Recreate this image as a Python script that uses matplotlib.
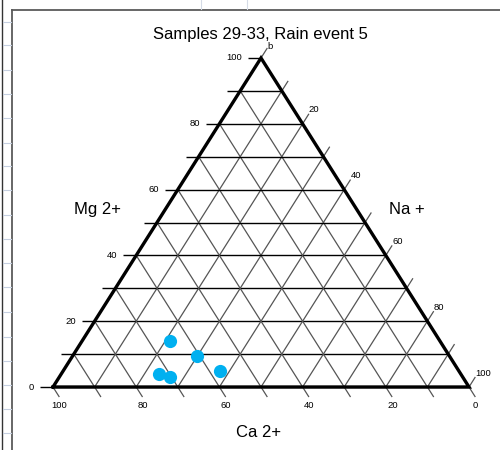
import matplotlib
matplotlib.use("Agg")
import matplotlib.pyplot as plt
from matplotlib.lines import Line2D
import numpy as np

plt.rcParams['font.family'] = ['Liberation Sans', 'DejaVu Sans']

# ---- data ----
title = "Samples 29-33, Rain event 5"
ca = [64.9, 60.7, 57.4, 72.5, 70.4]
mg = [14.0, 9.4, 4.9, 4.0, 3.0]
na = [21.1, 29.9, 37.7, 23.5, 26.6]
grid_vals = list(range(0, 101, 10))
label_vals = [0, 20, 40, 60, 80, 100]
mg_labels = ['0', '20', '40', '60', '80', '100']
ca_labels = ['0', '20', '40', '60', '80', '100']
na_labels = ['b', '20', '40', '60', '80', '100']
axis_names = ['Mg 2+', 'Na +', 'Ca 2+']
point_color = '#00B0F0'


def tern(n, m):
    """Ternary (Na, Mg) -> cartesian (Ca = 100 - Na - Mg)."""
    return n + m / 2.0, m


fig = plt.figure(figsize=(5, 4.5), dpi=100)
ax = fig.add_axes([0, 0, 1, 1])
# triangle base spans 53..469 px, height 387..58 px
sx = 416 / 100.0
sy = 329 / 100.0
ax.set_xlim(-53 / sx, (500 - 53) / sx)
ax.set_ylim((387 - 450) / sy, 387 / sy)
ax.axis('off')

ext_h = 13 / sx       # horizontal tick extension
ext_dy = 9.5 / sy     # diagonal tick extension (vertical part)
ext_dx = ext_dy / 2.0

grid_gray = '#555555'
for v in grid_vals:
    # constant Mg (horizontal) lines, extended left
    x0, y0 = tern(0, v)
    x1, y1 = tern(100 - v, v)
    ax.plot([x0 - ext_h, x1], [y0, y1], color='black', lw=1.0, solid_capstyle='butt')
    # constant Ca lines (parallel to right edge), extended below base
    c = v
    xa, ya = tern(100 - c, 0)
    xb, yb = tern(0, 100 - c)
    ax.plot([xb, xa + ext_dx], [yb, ya - ext_dy], color=grid_gray, lw=0.9)
    # constant Na lines (parallel to left edge), extended beyond right edge
    n = v
    xa, ya = tern(n, 0)
    xb, yb = tern(n, 100 - n)
    ax.plot([xa, xb + ext_dx], [ya, yb + ext_dy], color=grid_gray, lw=0.9)

# outer triangle
tx = [tern(0, 0)[0], tern(100, 0)[0], tern(0, 100)[0], tern(0, 0)[0]]
ty = [tern(0, 0)[1], tern(100, 0)[1], tern(0, 100)[1], tern(0, 0)[1]]
ax.plot(tx, ty, color='black', lw=2.4, solid_joinstyle='miter')

# tick labels
fs_tick = 6.8
for v, lab in zip(label_vals, mg_labels):
    x, y = tern(0, v)
    ax.text(x - ext_h - 1.4, y, lab, ha='right', va='center', fontsize=fs_tick)
for v, lab in zip(label_vals, ca_labels):
    x, y = tern(100 - v, 0)
    ax.text(x + 1.6, y - 5.6, lab, ha='center', va='center', fontsize=fs_tick)
for v, lab in zip(label_vals, na_labels):
    x, y = tern(v, 100 - v)
    dy = 3.6 if v == 0 else 4.2
    ax.text(x + 1.5, y + dy, lab, ha='left', va='center', fontsize=fs_tick)

# axis names
ax.text(10.8, 53.8, axis_names[0], ha='center', va='center', fontsize=12)
ax.text(85.1, 53.8, axis_names[1], ha='center', va='center', fontsize=12)
ax.text(49.5, -13.7, axis_names[2], ha='center', va='center', fontsize=12)

# points
px, py = tern(np.array(na), np.array(mg))
ax.plot(px, py, 'o', color=point_color, markersize=9.5, markeredgewidth=0, zorder=5)

# title
fig.text(260 / 500, 1 - 34 / 450, title, ha='center', va='center', fontsize=12)

# spreadsheet / chart frame decoration
fig.add_artist(Line2D([12 / 500, 1], [1 - 10 / 450, 1 - 10 / 450], color='#5a5a5a', lw=1.3))
fig.add_artist(Line2D([12 / 500, 12 / 500], [0, 1 - 10 / 450], color='#5a5a5a', lw=1.3))
fig.add_artist(Line2D([1.5 / 500, 1.5 / 500], [0, 1], color='#333333', lw=1.0))
for ry in [22, 45, 70, 94, 118, 143, 166, 190, 215, 239, 263, 287, 312, 337, 361, 385, 409, 433]:
    fig.add_artist(Line2D([3 / 500, 11 / 500], [1 - ry / 450, 1 - ry / 450], color='#c5cfe0', lw=0.8))
for rx in [201, 247]:
    fig.add_artist(Line2D([rx / 500, rx / 500], [1 - 9 / 450, 1], color='#d5dbe6', lw=0.8))

fig.savefig('out.png', dpi=100)
